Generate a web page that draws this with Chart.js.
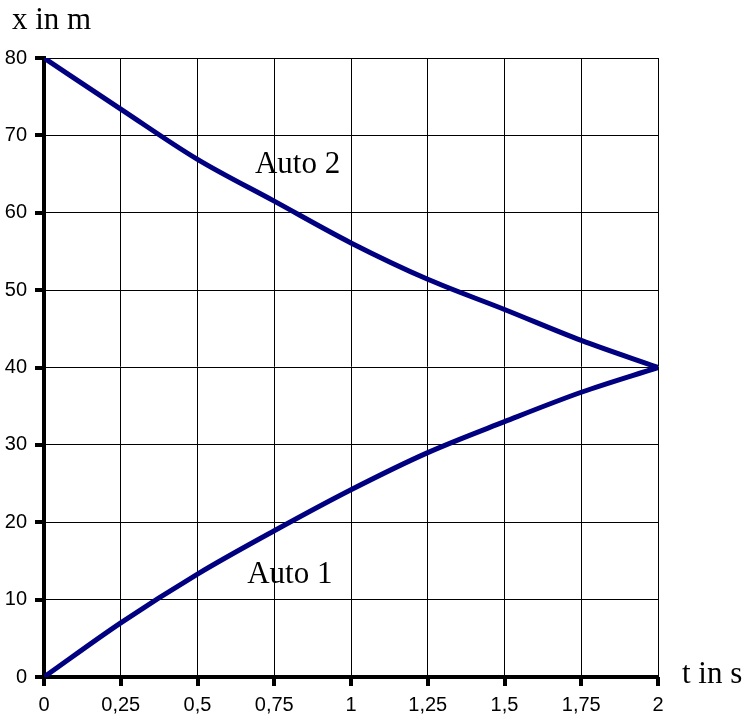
<!DOCTYPE html>
<html>
<head>
<meta charset="utf-8">
<script src="https://cdn.jsdelivr.net/npm/chart.js@4.4.1/dist/chart.umd.min.js"></script>
<style>
  html, body { margin: 0; padding: 0; background: #fff; }
  #wrap { width: 744px; height: 718px; }
</style>
</head>
<body>
<div id="wrap"><canvas id="c" width="744" height="718"></canvas></div>
<script>
// time in s
const times = [0, 0.25, 0.5, 0.75, 1, 1.25, 1.5, 1.75, 2];
// position in m
const auto1 = [0, 7.0, 13.3, 18.9, 24.2, 29.0, 33.0, 36.8, 40];
const auto2 = [80, 73.4, 66.9, 61.5, 56.1, 51.4, 47.5, 43.5, 40];
// y tick values
const yTicks = [0, 10, 20, 30, 40, 50, 60, 70, 80];

const yTitle = 'x in m';
const xTitle = 't in s';
// curve labels: text, t, x (baseline)
const curveLabels = [
  { text: 'Auto 2', t: 0.687, x: 65.2 },
  { text: 'Auto 1', t: 0.662, x: 12.1 }
];

const serif = '31px "Liberation Serif", "Times New Roman", serif';
const TICK_LEN = 9;

function toPoints(vals) {
  return times.map((t, i) => ({ x: t, y: vals[i] }));
}

// axis titles, curve names and the short outward tick marks
const textPlugin = {
  id: 'texts',
  afterDraw(chart) {
    const ctx = chart.ctx;
    const xs = chart.scales.x, ys = chart.scales.y;
    const area = chart.chartArea;
    ctx.save();
    ctx.fillStyle = '#000';
    yTicks.forEach(v => {
      const py = Math.round(ys.getPixelForValue(v));
      ctx.fillRect(area.left - TICK_LEN, py - 2, TICK_LEN, 4);
    });
    times.forEach(v => {
      const px = Math.round(xs.getPixelForValue(v));
      ctx.fillRect(px - 2, area.bottom, 4, TICK_LEN);
    });

    ctx.font = serif;
    ctx.textBaseline = 'alphabetic';
    ctx.textAlign = 'left';
    ctx.fillText(yTitle, area.left - 32, area.top - 29);
    ctx.fillText(xTitle, area.right + 24, area.bottom + 6);
    curveLabels.forEach(l => {
      ctx.fillText(l.text, xs.getPixelForValue(l.t), ys.getPixelForValue(l.x));
    });
    ctx.restore();
  }
};

const tickFont = { family: 'Liberation Sans', size: 20 };

new Chart(document.getElementById('c'), {
  type: 'line',
  data: {
    datasets: [
      { label: 'Auto 1', data: toPoints(auto1) },
      { label: 'Auto 2', data: toPoints(auto2) }
    ]
  },
  options: {
    responsive: false,
    animation: false,
    devicePixelRatio: 1,
    layout: { padding: { left: 0, top: 58, right: 86, bottom: 0 } },
    elements: {
      line: { borderColor: '#000080', borderWidth: 5, tension: 0.35, cubicInterpolationMode: 'monotone', fill: false, borderCapStyle: 'round' },
      point: { radius: 0, hoverRadius: 0 }
    },
    plugins: { legend: { display: false }, tooltip: { enabled: false } },
    scales: {
      x: {
        type: 'linear',
        min: 0, max: 2,
        afterFit(s) { s.height = 41; },
        afterBuildTicks(s) { s.ticks = times.map(v => ({ value: v })); },
        ticks: {
          color: '#000', font: tickFont, padding: 7, maxRotation: 0, autoSkip: false,
          callback: v => String(v).replace('.', ',')
        },
        grid: { color: '#000', lineWidth: 1, drawTicks: true, tickLength: TICK_LEN, tickColor: 'rgba(0,0,0,0)' },
        border: { display: true, color: '#000', width: 4 }
      },
      y: {
        min: 0, max: 80,
        afterFit(s) { s.width = 44; },
        afterBuildTicks(s) { s.ticks = yTicks.map(v => ({ value: v })); },
        ticks: { color: '#000', font: tickFont, padding: 8 },
        grid: { color: '#000', lineWidth: 1, drawTicks: true, tickLength: TICK_LEN, tickColor: 'rgba(0,0,0,0)' },
        border: { display: true, color: '#000', width: 4 }
      }
    }
  },
  plugins: [textPlugin]
});
</script>
</body>
</html>
